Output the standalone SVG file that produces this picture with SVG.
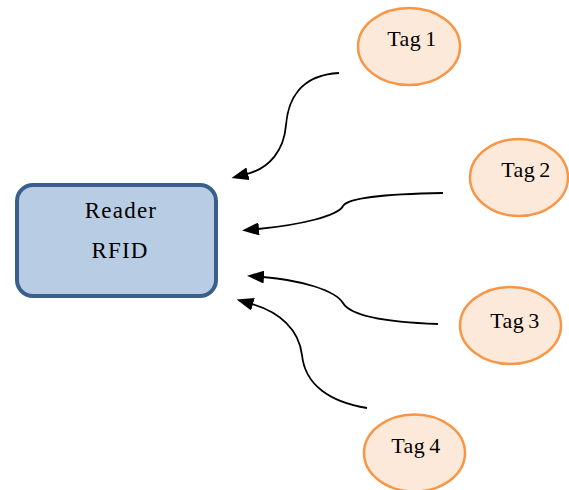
<svg xmlns="http://www.w3.org/2000/svg" width="569" height="490" viewBox="0 0 569 490">
<style>
.tag ellipse{fill:#fde9d9;stroke:#f79646;stroke-width:2.5}
.lbl{font-family:"Liberation Serif","Times New Roman",serif;fill:#000;text-anchor:middle}
.tagt{font-size:22px;letter-spacing:0.5px}
.rdt{font-size:23px;letter-spacing:1.2px}
.conn path{fill:none;stroke:#000;stroke-width:1.8;marker-end:url(#ah)}
</style>
<defs>
<marker id="ah" viewBox="0 0 17 13" refX="1" refY="6.5" markerWidth="17" markerHeight="13" markerUnits="userSpaceOnUse" orient="auto">
<path d="M17,6.5 L0,0 L0,13 Z" fill="#000"/>
</marker>
</defs>
<rect width="569" height="490" fill="#fff"/>
<g id="reader">
<rect x="17" y="185" width="199" height="111" rx="16" ry="16" fill="#b8cce4" stroke="#3b5f8d" stroke-width="4"/>
<text class="lbl rdt" x="121" y="218">Reader</text>
<text class="lbl rdt" x="120" y="258">RFID</text>
</g>
<g id="tag1" class="tag">
<ellipse cx="409" cy="46.5" rx="51" ry="38.5"/>
<text class="lbl tagt" x="412" y="46">Tag<tspan dx="4">1</tspan></text>
</g>
<g id="tag2" class="tag">
<ellipse cx="519" cy="177.5" rx="49" ry="38.5"/>
<text class="lbl tagt" x="526" y="177">Tag<tspan dx="4">2</tspan></text>
</g>
<g id="tag3" class="tag">
<ellipse cx="510.5" cy="325.5" rx="50.5" ry="38.5"/>
<text class="lbl tagt" x="515" y="328">Tag<tspan dx="4">3</tspan></text>
</g>
<g id="tag4" class="tag">
<ellipse cx="414.5" cy="453" rx="50.5" ry="38.5"/>
<text class="lbl tagt" x="416" y="453">Tag<tspan dx="4">4</tspan></text>
</g>
<g id="connectors" class="conn">
<path d="M339,73 C300,75 288,100 286,125 C284,150 270,168 247,174"/>
<path d="M443,193 C380,194 348,198 343,206 C338,216 300,225 258,229"/>
<path d="M438,324 C380,322 350,315 343,303 C335,290 300,280 263,277"/>
<path d="M367,408 C330,402 305,385 302,355 C299,330 280,312 252,304"/>
</g>
</svg>
